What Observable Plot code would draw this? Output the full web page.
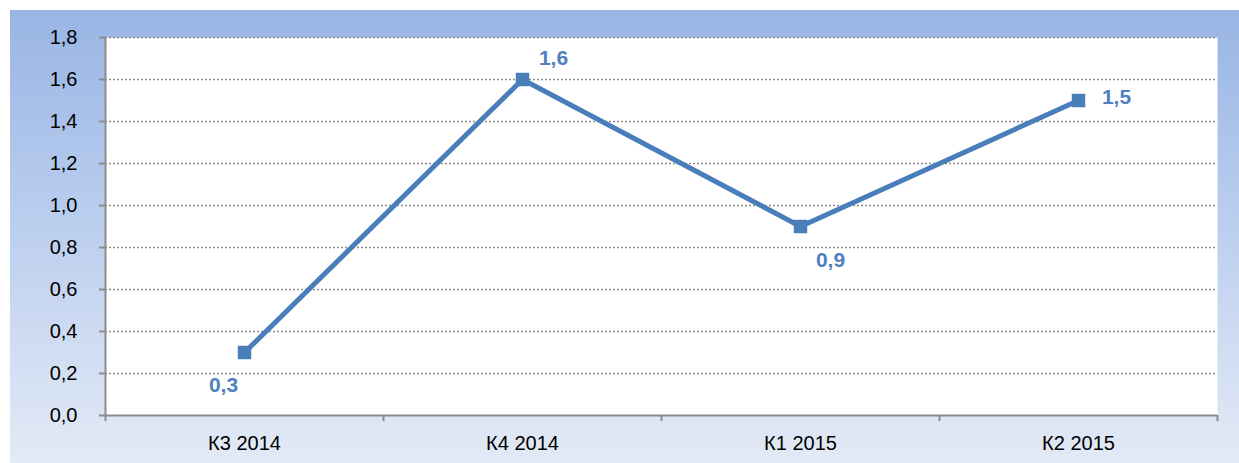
<!DOCTYPE html>
<html>
<head>
<meta charset="utf-8">
<script src="https://cdn.jsdelivr.net/npm/d3@7"></script>
<script src="https://cdn.jsdelivr.net/npm/@observablehq/plot@0.6"></script>
<style>
  html, body { margin: 0; padding: 0; background: #ffffff; }
  #chart svg { display: block; }
</style>
</head>
<body>
<div id="chart"></div>
<script>
const categories = ["К3 2014", "К4 2014", "К1 2015", "К2 2015"];
const values = [0.3, 1.6, 0.9, 1.5];
const yTicks = [0, 0.2, 0.4, 0.6, 0.8, 1.0, 1.2, 1.4, 1.6, 1.8];

const data = categories.map((c, i) => ({ cat: c, idx: i, pos: i + 0.5, value: values[i] }));
const labelTicks = data.map(d => d.pos);
const boundaryTicks = d3.range(categories.length + 1);
const fmt = v => v.toFixed(1).replace(".", ",");

const lineColor = "#4a7ebb";
const labelColor = "#4f81c0";
const font = "Liberation Sans";

const labelText = (i, dx, dy) => Plot.text(data.filter(d => d.idx === i), {
  x: "pos", y: "value", text: d => fmt(d.value), dx, dy,
  fill: labelColor, fontWeight: "bold", fontSize: 21, fontFamily: font,
  letterSpacing: "1.5px"
});

const chart = Plot.plot({
  width: 1239,
  height: 463,
  marginLeft: 105,
  marginRight: 22,
  marginTop: 37,
  marginBottom: 48,
  style: {
    fontFamily: font,
    fontSize: "20px",
    color: "#000",
    background: "#ffffff linear-gradient(to bottom, #99b5e4 0%, #b9cdee 45%, #e3eaf6 100%) no-repeat 10px 10px / 1229px 453px"
  },
  x: { domain: [0, categories.length] },
  y: { domain: [0, 1.8] },
  marks: [
    Plot.frame({ fill: "white", stroke: null }),
    Plot.gridY(yTicks.filter(t => t > 0), { stroke: "#8c8c8c", strokeOpacity: 1, strokeWidth: 1.5, strokeDasharray: "2,2" }),
    Plot.ruleX([0], { stroke: "#8c8c8c", strokeWidth: 2 }),
    Plot.ruleY([0], { stroke: "#8c8c8c", strokeWidth: 2 }),
    Plot.axisY({ ticks: yTicks, tickFormat: fmt, tickSize: 6, tickPadding: 22, stroke: "#8c8c8c", strokeWidth: 2, fill: "#000", label: null }),
    Plot.axisX({ ticks: boundaryTicks, tickFormat: () => "", tickSize: 6, stroke: "#8c8c8c", strokeWidth: 2, label: null }),
    Plot.axisX({ ticks: labelTicks, tickFormat: p => categories[Math.floor(p)], tickSize: 0, tickPadding: 20, fill: "#000", label: null }),
    Plot.line(data, { x: "pos", y: "value", stroke: lineColor, strokeWidth: 5, strokeLinejoin: "miter" }),
    Plot.dot(data, { x: "pos", y: "value", symbol: "square", r: 7.6, fill: lineColor, stroke: null }),
    labelText(0, -21, 33),
    labelText(1, 31, -21),
    labelText(2, 30, 34),
    labelText(3, 38, -3)
  ]
});
document.getElementById("chart").appendChild(chart);
</script>
</body>
</html>
